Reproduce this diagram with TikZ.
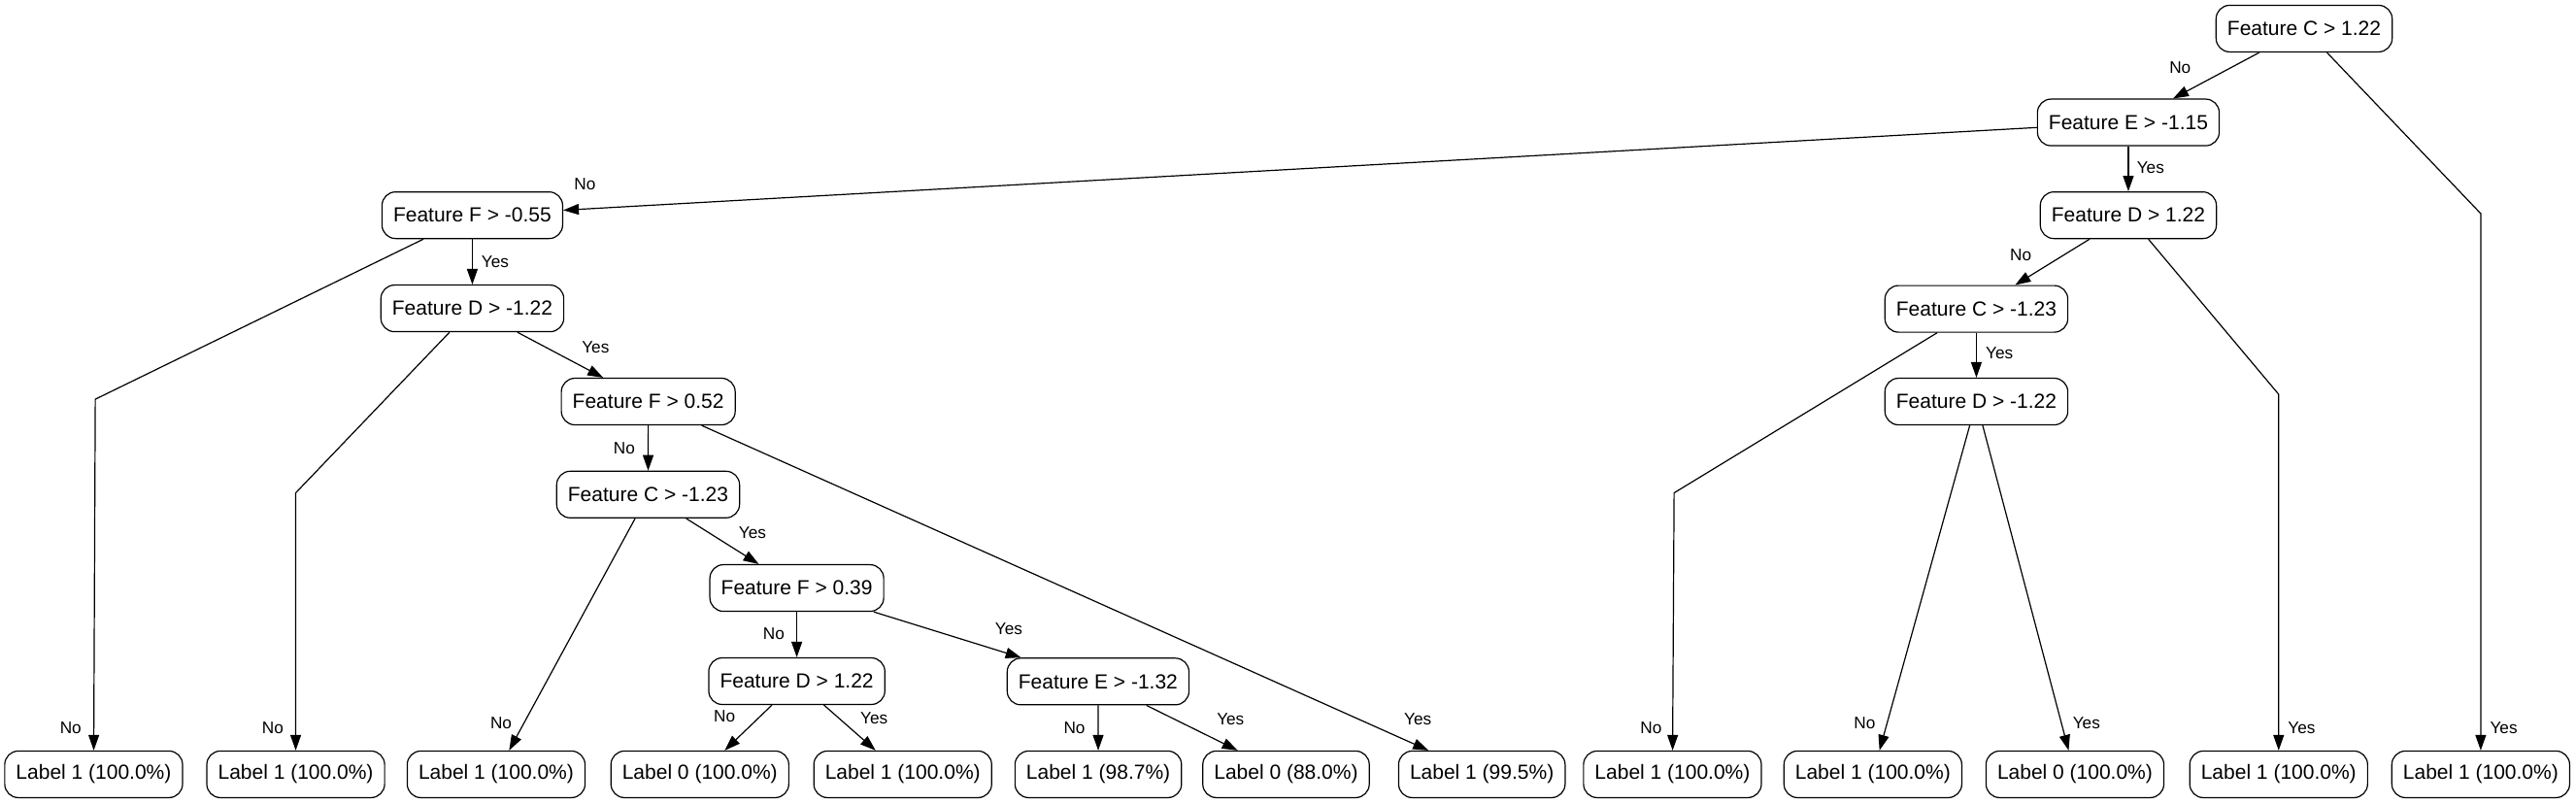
\documentclass[tikz,border=0pt]{standalone}
\usepackage{fontspec}
\setmainfont{Liberation Sans}
\usetikzlibrary{arrows.meta}

\begin{document}
\begin{tikzpicture}[
    x=0.846pt, y=-0.846pt,
    >={Triangle[length=8pt,width=5.5pt]},
    tnode/.style={draw, rounded corners=7pt, minimum height=24pt, inner xsep=5.8pt,
                  line width=0.6pt, font=\fontsize{10.5}{12}\selectfont},
    arrow/.style={->, line width=0.6pt},
    lbl/.style={font=\fontsize{8.6}{10}\selectfont, inner sep=1pt},
]
    \useasboundingbox (0,0) rectangle (1568,489);

    % Split nodes
    \node[tnode] (cA) at (1402.5,17.4) {Feature C > 1.22};
    \node[tnode] (eA) at (1295.5,74.5) {Feature E > -1.15};
    \node[tnode] (fA) at (287.5,131)   {Feature F > -0.55};
    \node[tnode] (dA) at (1295.5,131)  {Feature D > 1.22};
    \node[tnode] (dB) at (287.5,187.7) {Feature D > -1.22};
    \node[tnode] (cB) at (1203,188)    {Feature C > -1.23};
    \node[tnode] (fB) at (394.6,244.4) {Feature F > 0.52};
    \node[tnode] (dC) at (1203,244.4)  {Feature D > -1.22};
    \node[tnode] (cC) at (394.5,301)   {Feature C > -1.23};
    \node[tnode] (fC) at (485,357.9)   {Feature F > 0.39};
    \node[tnode] (dD) at (485,414.6)   {Feature D > 1.22};
    \node[tnode] (eB) at (668.4,414.8) {Feature E > -1.32};

    % Leaves
    \node[tnode] (l1)  at (57,471.3)   {Label 1 (100.0\%)};
    \node[tnode] (l2)  at (180,471.3)  {Label 1 (100.0\%)};
    \node[tnode] (l3)  at (302,471.3)  {Label 1 (100.0\%)};
    \node[tnode] (l4)  at (426,471.3)  {Label 0 (100.0\%)};
    \node[tnode] (l5)  at (549.5,471.3) {Label 1 (100.0\%)};
    \node[tnode] (l6)  at (668.5,471.3) {Label 1 (98.7\%)};
    \node[tnode] (l7)  at (782.8,471.3) {Label 0 (88.0\%)};
    \node[tnode] (l8)  at (902,471.3)  {Label 1 (99.5\%)};
    \node[tnode] (l9)  at (1018,471.3) {Label 1 (100.0\%)};
    \node[tnode] (l10) at (1140,471.3) {Label 1 (100.0\%)};
    \node[tnode] (l11) at (1263,471.3) {Label 0 (100.0\%)};
    \node[tnode] (l12) at (1387,471.3) {Label 1 (100.0\%)};
    \node[tnode] (l13) at (1510,471.3) {Label 1 (100.0\%)};

    % Bends
    \coordinate (k1) at (1510,130);
    \coordinate (k2) at (1387,240);
    \coordinate (k3) at (1019,300);
    \coordinate (k4) at (58,243);
    \coordinate (k5) at (180,300);

    % Right part
    \draw[arrow] (cA) -- (eA) node[lbl] at (1327,41) {No};
    \draw[arrow] (cA) -- (k1) -- (l13) node[lbl] at (1524,443) {Yes};
    \draw[arrow] (eA) -- (fA) node[lbl] at (356,112) {No};
    \draw[arrow] (eA) -- (dA) node[lbl] at (1309,102) {Yes};
    \draw[arrow] (dA) -- (cB) node[lbl] at (1230,155) {No};
    \draw[arrow] (dA) -- (k2) -- (l12) node[lbl] at (1401,443) {Yes};
    \draw[arrow] (cB) -- (dC) node[lbl] at (1217,215) {Yes};
    \draw[arrow] (cB) -- (k3) -- (l9) node[lbl] at (1005,443) {No};
    \draw[arrow] (dC) -- (l10) node[lbl] at (1135,440) {No};
    \draw[arrow] (dC) -- (l11) node[lbl] at (1270,440) {Yes};

    % Left part
    \draw[arrow] (fA) -- (dB) node[lbl] at (301.4,159.6) {Yes};
    \draw[arrow] (fA) -- (k4) -- (l1) node[lbl] at (43,443) {No};
    \draw[arrow] (dB) -- (fB) node[lbl] at (362.5,211.4) {Yes};
    \draw[arrow] (dB) -- (k5) -- (l2) node[lbl] at (166,443) {No};
    \draw[arrow] (fB) -- (cC) node[lbl] at (380,273) {No};
    \draw[arrow] (fB) -- (l8) node[lbl] at (863,438) {Yes};
    \draw[arrow] (cC) -- (fC) node[lbl] at (458,324.5) {Yes};
    \draw[arrow] (cC) -- (l3) node[lbl] at (305,440) {No};
    \draw[arrow] (fC) -- (dD) node[lbl] at (471,386) {No};
    \draw[arrow] (fC) -- (eB) node[lbl] at (614,383) {Yes};
    \draw[arrow] (dD) -- (l4) node[lbl] at (441,436) {No};
    \draw[arrow] (dD) -- (l5) node[lbl] at (532,437) {Yes};
    \draw[arrow] (eB) -- (l6) node[lbl] at (654,443) {No};
    \draw[arrow] (eB) -- (l7) node[lbl] at (749,438) {Yes};
\end{tikzpicture}
\end{document}
